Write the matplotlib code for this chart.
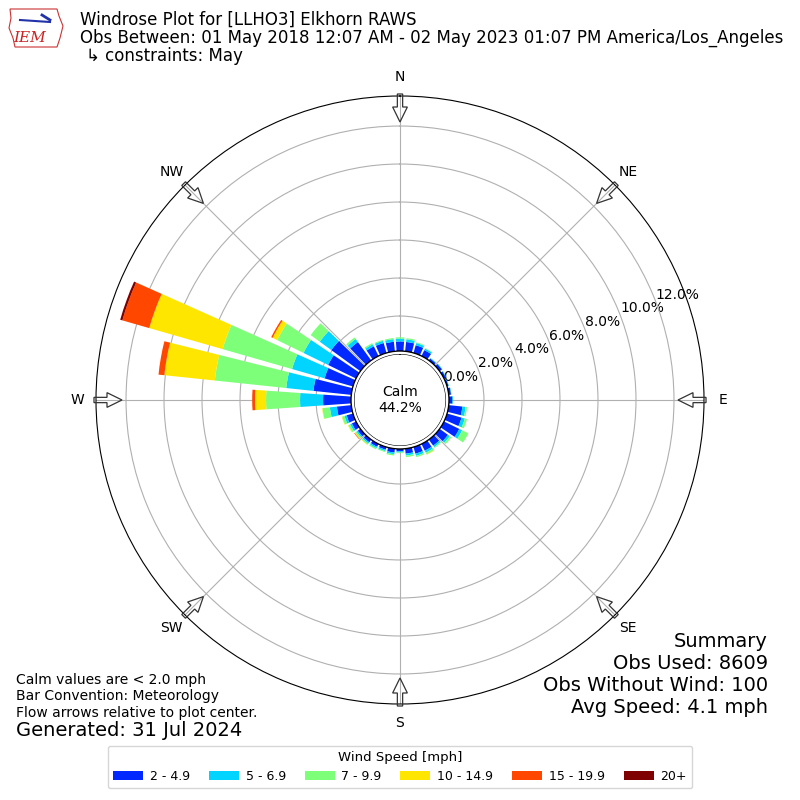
import numpy as np
import matplotlib
matplotlib.use('Agg')
from matplotlib import pyplot as plt
from matplotlib.patches import Circle, FancyArrow, Polygon

# wind directions (deg, bin centres) and percent frequency per speed bin
dirs = list(range(0, 360, 10))
spd_2_5 = [0.66, 0.65, 0.58, 0.50, 0.28, 0.31, 0.27, 0.24, 0.28, 0.34,
           0.88, 0.95, 1.05, 0.70, 0.55, 0.55, 0.52, 0.42, 0.28, 0.36,
           0.30, 0.32, 0.33, 0.33, 0.40, 0.50, 0.92, 1.63, 2.16, 1.71,
           1.79, 2.05, 1.35, 0.72, 0.70, 0.66]
spd_5_7 = [0.15, 0.14, 0.12, 0.09, 0.03, 0.03, 0.03, 0.02, 0.02, 0.04,
           0.17, 0.18, 0.17, 0.12, 0.10, 0.12, 0.12, 0.10, 0.06, 0.09,
           0.08, 0.08, 0.08, 0.08, 0.10, 0.12, 0.37, 1.21, 1.44, 1.78,
           1.44, 0.75, 0.20, 0.12, 0.12, 0.14]
spd_7_10 = [0.07, 0.06, 0.04, 0.03, 0, 0, 0, 0, 0, 0,
            0.08, 0.12, 0.36, 0.10, 0.05, 0.10, 0.07, 0.08, 0.04, 0.07,
            0.05, 0.07, 0.07, 0.08, 0.10, 0.13, 0.39, 1.79, 3.78, 3.80,
            1.54, 0.59, 0.10, 0.07, 0.05, 0.06]
spd_10_15 = [0, 0, 0, 0, 0, 0, 0, 0, 0, 0,
             0, 0, 0, 0, 0, 0.02, 0, 0, 0, 0,
             0, 0, 0.02, 0.04, 0.03, 0.02, 0.02, 0.58, 2.67, 4.02,
             0.27, 0, 0, 0, 0, 0]
spd_15_20 = [0, 0, 0, 0, 0, 0, 0, 0, 0, 0,
             0, 0, 0, 0, 0, 0, 0, 0, 0, 0,
             0, 0, 0, 0.03, 0, 0, 0, 0.15, 0.31, 1.47,
             0.08, 0, 0, 0, 0, 0]
spd_20 = [0, 0, 0, 0, 0, 0, 0, 0, 0, 0,
          0, 0, 0, 0, 0, 0, 0, 0, 0, 0,
          0, 0, 0, 0, 0, 0, 0, 0, 0, 0.12,
          0, 0, 0, 0, 0, 0]
bins = [spd_2_5, spd_5_7, spd_7_10, spd_10_15, spd_15_20, spd_20]
bin_labels = ['2 - 4.9', '5 - 6.9', '7 - 9.9', '10 - 14.9', '15 - 19.9', '20+']
colors = ['#0028ff', '#00d4ff', '#7dff7a', '#ffe600', '#ff4700', '#7f0000']
rings = [0, 2, 4, 6, 8, 10, 12]
compass = ['N', 'NE', 'E', 'SE', 'S', 'SW', 'W', 'NW']
calm_pct = 44.2

fig = plt.figure(figsize=(8, 8), dpi=100)
ax = fig.add_axes([0.12, 0.12, 0.76, 0.76], projection='polar')
ax.set_theta_zero_location('N')
ax.set_theta_direction(-1)

theta = np.deg2rad(dirs)
bottom = np.zeros(len(dirs))
handles = []
for vals, c, lab in zip(bins, colors, bin_labels):
    vals = np.array(vals)
    h = ax.bar(theta, vals, width=np.deg2rad(8), bottom=bottom, color=c,
               linewidth=0, zorder=2, label=lab)
    handles.append(h)
    bottom += vals

ax.set_rorigin(-2.42)
ax.set_ylim(0, 13.58)
ax.set_yticks(rings)
ax.set_yticklabels(['%.1f%%' % r for r in rings], fontsize=10)
ax.set_rlabel_position(69)
ax.set_thetagrids(range(0, 360, 45), compass, fontsize=10)
ax.tick_params(axis='x', pad=3)
ax.grid(color='#b0b0b0', lw=0.8)

# calm circle in the middle
ax.add_artist(Circle((0.5, 0.5), 49 / 608., transform=ax.transAxes,
                     fc='white', ec='black', lw=1, zorder=5))
ax.text(0.5, 0.5, 'Calm\n%.1f%%' % calm_pct, transform=ax.transAxes,
        ha='center', va='center', fontsize=10, zorder=6)

# overlay in pixel coords for arrows and logo
ov = fig.add_axes([0, 0, 1, 1])
ov.set_xlim(0, 800)
ov.set_ylim(800, 0)
ov.axis('off')
ov.patch.set_alpha(0)
for a in range(0, 360, 45):
    s, c = np.sin(np.deg2rad(a)), np.cos(np.deg2rad(a))
    ov.add_patch(FancyArrow(400 + 306 * s, 400 - 306 * c, -28 * s, 28 * c,
                            width=5.3, head_width=14.7, head_length=15,
                            length_includes_head=True, fc='none',
                            ec='#333333', lw=0.9))

# rough IEM logo
ov.add_patch(Polygon([(10, 9), (57, 9), (59, 16), (63, 26), (60, 38), (57, 47),
                      (15, 47), (13, 38), (9, 28), (11, 18)],
                     closed=True, fc='none', ec='#cc3333', lw=0.8))
ov.plot([20, 50], [20, 22], color='#2233aa', lw=1.5)
ov.plot([42, 50], [15, 20], color='#2233aa', lw=2)
ov.text(30, 38, 'IEM', color='#cc2222', fontsize=11, style='italic',
        family='DejaVu Serif', ha='center', va='center')

# header
fig.text(80 / 800, 1 - 25 / 800, 'Windrose Plot for [LLHO3] Elkhorn RAWS',
         fontsize=12, va='baseline')
fig.text(80 / 800, 1 - 43 / 800,
         'Obs Between: 01 May 2018 12:07 AM - 02 May 2023 01:07 PM America/Los_Angeles',
         fontsize=12, va='baseline')
fig.text(86 / 800, 1 - 61 / 800, '\u21b3 constraints: May', fontsize=12,
         va='baseline')

# footer notes
fig.text(16 / 800, 1 - 684 / 800, 'Calm values are < 2.0 mph', fontsize=10,
         va='baseline')
fig.text(16 / 800, 1 - 700 / 800, 'Bar Convention: Meteorology', fontsize=10,
         va='baseline')
fig.text(16 / 800, 1 - 717 / 800, 'Flow arrows relative to plot center.',
         fontsize=10, va='baseline')
fig.text(16 / 800, 1 - 736 / 800, 'Generated: 31 Jul 2024', fontsize=14,
         va='baseline')

summary = ['Summary', 'Obs Used: 8609', 'Obs Without Wind: 100',
           'Avg Speed: 4.1 mph']
for i, line in enumerate(summary):
    fig.text(768 / 800, 1 - (647 + 22 * i) / 800, line, fontsize=14,
             ha='right', va='baseline')

fig.legend(handles, bin_labels, loc='lower center', ncol=6,
           bbox_to_anchor=(0.5, 12 / 800), borderaxespad=0,
           title='Wind Speed [mph]', fontsize=9, title_fontsize=9.5,
           handlelength=2.4, handletextpad=0.55, columnspacing=1.5)

fig.savefig('out.png', dpi=100)
